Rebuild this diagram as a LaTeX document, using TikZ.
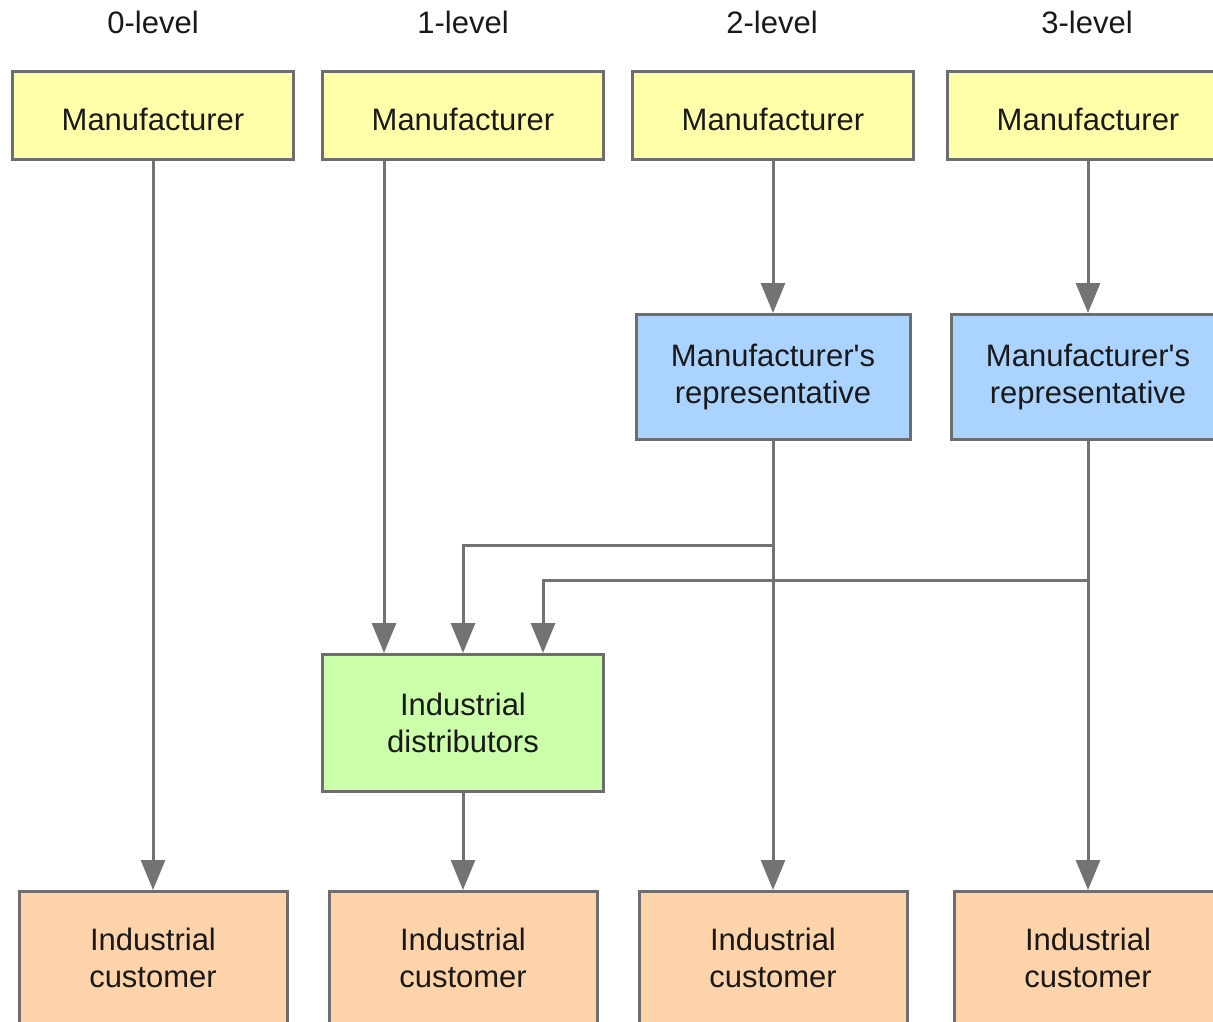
\documentclass[tikz,border=0pt]{standalone}
\usepackage{fontspec}
\setmainfont{Liberation Sans}
\usetikzlibrary{arrows.meta}

\begin{document}
\begin{tikzpicture}
		[x=1pt,y=-1pt,line join=miter,
		%Styles
		box/.style={draw=boxline,line width=3pt,inner sep=0pt,align=center,
			text=black!90,font=\fontsize{31}{37}\selectfont,
			execute at begin node={\rule{0pt}{30pt}}},
		maker/.style={box,fill=makerfill,minimum width=281pt,minimum height=88pt},
		rep/.style={box,fill=repfill,minimum width=274pt,minimum height=125pt},
		dist/.style={box,fill=distfill,minimum width=281pt,minimum height=137pt},
		cust/.style={box,fill=custfill,minimum width=268pt,minimum height=133pt},
		level/.style={text=black!90,font=\fontsize{31}{37}\selectfont},
		flow/.style={draw=flowline,line width=3pt,-{Triangle[length=30pt,width=24pt]}}
		]
		
		%Colors
		\definecolor{makerfill}{HTML}{FFFFAA}
		\definecolor{repfill}{HTML}{AAD4FF}
		\definecolor{distfill}{HTML}{CCFFAA}
		\definecolor{custfill}{HTML}{FFD4AA}
		\definecolor{boxline}{HTML}{6E6E6E}
		\definecolor{flowline}{HTML}{737373}
		
		\useasboundingbox (0,0) rectangle (1213,1022);
		\clip (0,0) rectangle (1213,1022);
		
		%Levels
		\node[level] (l0) at (153,22) {0-level};
		\node[level] (l1) at (463,22) {1-level};
		\node[level] (l2) at (772,22) {2-level};
		\node[level] (l3) at (1087,22) {3-level};
		
		%The graphic
		\node[maker] (m0) at (153,115.5) {Manufacturer};
		\node[maker] (m1) at (463,115.5) {Manufacturer};
		\node[maker] (m2) at (773,115.5) {Manufacturer};
		\node[maker] (m3) at (1088,115.5) {Manufacturer};
		
		\node[rep] (r2) at (773,377) {Manufacturer\textquotesingle s\\representative};
		\node[rep] (r3) at (1088,377) {Manufacturer\textquotesingle s\\representative};
		
		\node[dist] (d) at (463,723) {Industrial\\distributors};
		
		\node[cust] (c0) at (153,958) {Industrial\\customer};
		\node[cust] (c1) at (463,958) {Industrial\\customer};
		\node[cust] (c2) at (773,958) {Industrial\\customer};
		\node[cust] (c3) at (1088,958) {Industrial\\customer};
		
		\draw[flow] (m0) -- (c0);
		\draw[flow] ([xshift=-79pt]m1.south) -- ([xshift=-79pt]d.north);
		\draw[flow] (m2) -- (r2);
		\draw[flow] (m3) -- (r3);
		\draw[flow] (r2) -- (c2);
		\draw[flow] (r3) -- (c3);
		\draw[flow] (d) -- (c1);
		
		\coordinate (j2) at (773,545);
		\coordinate (j3) at (1088,580);
		\draw[flow] (j2) -| (d.north);
		\draw[flow] (j3) -| ([xshift=80pt]d.north);
	\end{tikzpicture}
\end{document}
